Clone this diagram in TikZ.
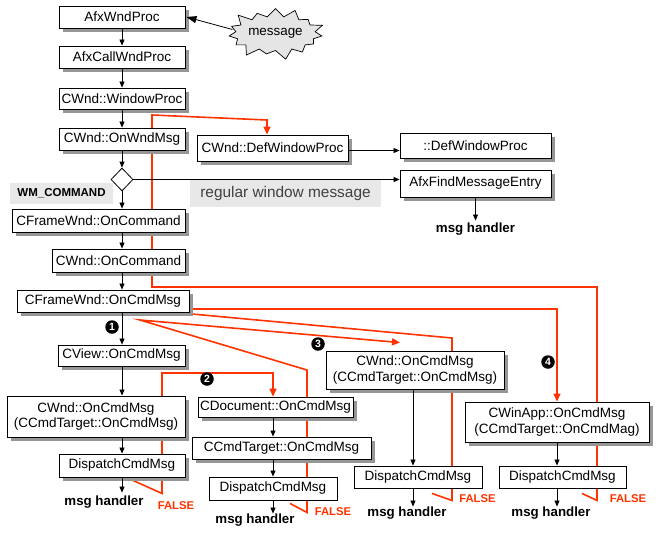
\documentclass[tikz,border=0pt]{standalone}
\usepackage{fontspec}
\setmainfont{Liberation Sans}
\usetikzlibrary{arrows.meta,shapes.geometric,shapes.symbols,calc}
\definecolor{redline}{RGB}{255,51,0}
\definecolor{lablgray}{RGB}{232,232,232}
\definecolor{shadegray}{RGB}{150,150,150}
\pgfdeclarelayer{bg}
\pgfsetlayers{bg,main}
% name, x, y, width, height, text : box with a grey drop shadow
\newcommand\shbox[6]{%
  \node[fill=shadegray, inner sep=0pt, minimum width=#4pt, minimum height=#5pt] (#1-shadow) at ({#2+4},{#3+4}) {};
  \node[box, minimum width=#4pt, minimum height=#5pt] (#1) at (#2,#3) {#6};}
\begin{document}
\begin{tikzpicture}[x=1pt,y=-1pt,
  box/.style={draw=black, line width=0.9pt, fill=white, inner sep=0pt, align=center,
    font=\fontsize{13.5}{15.5}\selectfont},
  arr/.style={-{Triangle[length=6pt,width=5pt]}, line width=0.8pt},
  redarr/.style={line width=1.6pt, draw=redline, -{Triangle[length=8pt,width=7pt]}},
  handler/.style={font=\bfseries\fontsize{13.3}{16}\selectfont, inner sep=0pt},
  falselbl/.style={font=\bfseries\fontsize{11.3}{14}\selectfont, text=redline, inner sep=0pt},
  num/.style={circle, fill=black, text=white, inner sep=0pt, minimum size=13.5pt,
    font=\bfseries\fontsize{10.5}{10.5}\selectfont},
]
\useasboundingbox (0,0) rectangle (659,533);

% left column
\shbox{wndproc}{122}{17}{126}{22}{AfxWndProc}
\shbox{callwnd}{122}{57}{126}{22}{AfxCallWndProc}
\shbox{windowproc}{122}{98.5}{126}{21}{CWnd::WindowProc}
\shbox{onwndmsg}{122}{139}{126}{22}{CWnd::OnWndMsg}
\node[diamond, draw, fill=white, line width=0.8pt, minimum width=22pt, minimum height=23pt, inner sep=0pt] (decide) at (122,179.5) {};
\node[fill=lablgray, minimum width=103pt, minimum height=21pt, inner sep=0pt,
  font=\bfseries\fontsize{11.5}{14}\selectfont] (wmcmd) at (61.5,193.5) {WM\_COMMAND};
\node[fill=lablgray, minimum width=191pt, minimum height=27pt, inner sep=0pt, text=black!75,
  font=\fontsize{15.4}{18}\selectfont] (regular) at (285.5,193.5) {regular window message};
\shbox{frameoncmd}{98.5}{220.5}{173}{23}{CFrameWnd::OnCommand}
\shbox{wndoncmd}{118.5}{260.5}{133}{23}{CWnd::OnCommand}
\shbox{framecmdmsg}{103}{301}{172}{22}{CFrameWnd::OnCmdMsg}
\shbox{viewcmd}{121.5}{355.5}{127}{21}{CView::OnCmdMsg}
\shbox{wndcmdmsg1}{96}{416.5}{178}{41}{CWnd::OnCmdMsg\\(CCmdTarget::OnCmdMsg)}
\shbox{disp1}{122}{465.5}{126}{23}{DispatchCmdMsg}
\node[handler] (hd1) at (104,502) {msg handler};
\node[falselbl] (f1) at (176,506) {FALSE};

% second column
\shbox{docmsg}{275.5}{407}{155}{20}{CDocument::OnCmdMsg}
\shbox{cmdtarget}{281.5}{448}{179}{22}{CCmdTarget::OnCmdMsg}
\node[box, minimum width=128pt, minimum height=23pt] (disp2) at (273,488.5) {DispatchCmdMsg};
\node[handler] (hd2) at (255,520) {msg handler};
\node[falselbl] (f2) at (333,512) {FALSE};

% third column
\shbox{wndcmdmsg3}{415}{370}{178}{38}{CWnd::OnCmdMsg\\(CCmdTarget::OnCmdMsg)}
\node[box, minimum width=128pt, minimum height=22pt] (disp3) at (418,477) {DispatchCmdMsg};
\node[handler] (hd3) at (407,513) {msg handler};
\node[falselbl] (f3) at (477.5,499) {FALSE};
\coordinate (c3) at (413,0);

% fourth column
\shbox{winapp}{557}{422}{184}{40}{CWinApp::OnCmdMsg\\(CCmdTarget::OnCmdMag)}
\node[box, minimum width=127pt, minimum height=22pt] (disp4) at (562.5,477) {DispatchCmdMsg};
\node[handler] (hd4) at (551,513) {msg handler};
\node[falselbl] (f4) at (628,499) {FALSE};

% top right
\shbox{defwin}{272.5}{148}{151}{26}{CWnd::DefWindowProc}
\shbox{apidef}{475.5}{145.5}{151}{25}{::DefWindowProc}
\shbox{findentry}{475.5}{183.5}{151}{27}{AfxFindMessageEntry}
\node[handler] (hd0) at (475.5,229) {msg handler};

\node[starburst, draw, fill=black!10, line width=0.7pt, minimum width=86pt, minimum height=56pt,
  inner sep=1pt, starburst points=15, starburst point height=11pt,
  font=\fontsize{13.4}{16}\selectfont] (message) at (275.5,33.5) {message};

% numbers
\node[num] (n1) at (112,327) {1};
\node[num] (n2) at (207,379) {2};
\node[num] (n3) at (318,344) {3};
\node[num] (n4) at (548,362) {4};

% black connectors
\draw[-{Triangle[length=10pt,width=7pt]}, line width=0.8pt] ([yshift=4pt]message.west) -- ([xshift=1pt]wndproc.east);
\draw[arr] (wndproc) -- (callwnd);
\draw[arr] (callwnd) -- (windowproc);
\draw[arr] (windowproc) -- (onwndmsg);
\draw[arr] (onwndmsg) -- (decide);
\draw[arr] (decide.south) -- (decide.south |- frameoncmd.north);
\draw[arr] (decide.east) -- (decide.east -| findentry.west);
\draw[arr] (frameoncmd.south -| decide.south) -- (decide.south |- wndoncmd.north);
\draw[arr] (wndoncmd.south -| decide.south) -- (decide.south |- framecmdmsg.north);
\draw[arr] (framecmdmsg.south -| decide.south) -- (decide.south |- viewcmd.north);
\draw[arr] (viewcmd.south -| decide.south) -- (decide.south |- wndcmdmsg1.north);
\draw[arr] (wndcmdmsg1.south -| decide.south) -- (decide.south |- disp1.north);
\draw[arr, shorten >=3pt] (disp1.south -| decide.south) -- (decide.south |- hd1.north);
\draw[arr] (docmsg.south -| disp2.north) -- (disp2.north |- cmdtarget.north);
\draw[arr] (cmdtarget.south -| disp2.north) -- (disp2.north);
\draw[arr] (disp2.south) -- (disp2.south |- hd2.north);
\draw[arr] (wndcmdmsg3.south -| c3) -- (c3 |- disp3.north);
\draw[arr] (disp3.south -| c3) -- (c3 |- hd3.north);
\draw[arr] (winapp.south) -- (winapp.south |- disp4.north);
\draw[arr] (disp4.south -| winapp.south) -- (winapp.south |- hd4.north);
\draw[arr] ([yshift=-2.5pt]defwin.east) -- ([yshift=-2.5pt]defwin.east -| apidef.west);
\draw[arr, shorten >=2pt] (findentry.south) -- (findentry.south |- hd0.north);

% red return paths
\begin{pgfonlayer}{bg}
\draw[redarr] ([xshift=19.5pt,yshift=-5pt]disp4.south) -- ++(15,7) -- (597,287) -- (152,287)
  -- (152,115) -- (267,120) -- ([xshift=-5.5pt]defwin.north);
\draw[redarr] ([xshift=11pt,yshift=-3pt]disp1.south) -- ++(29,13) -- (162,373) -- (273,373)
  -- ([xshift=-2.5pt]docmsg.north);
\draw[redarr] ([xshift=17pt,yshift=-3pt]disp2.south) -- ++(17,9) -- (307,370) -- (140,320)
  -- ([xshift=-15pt,yshift=8pt]wndcmdmsg3.north);
\draw[redarr] ([xshift=14pt,yshift=-5pt]disp3.south) -- ++(20,7) -- (452,338) -- (192,314)
  -- (192,309) -- (557,309) -- (winapp.north);
\end{pgfonlayer}
\end{tikzpicture}
\end{document}
